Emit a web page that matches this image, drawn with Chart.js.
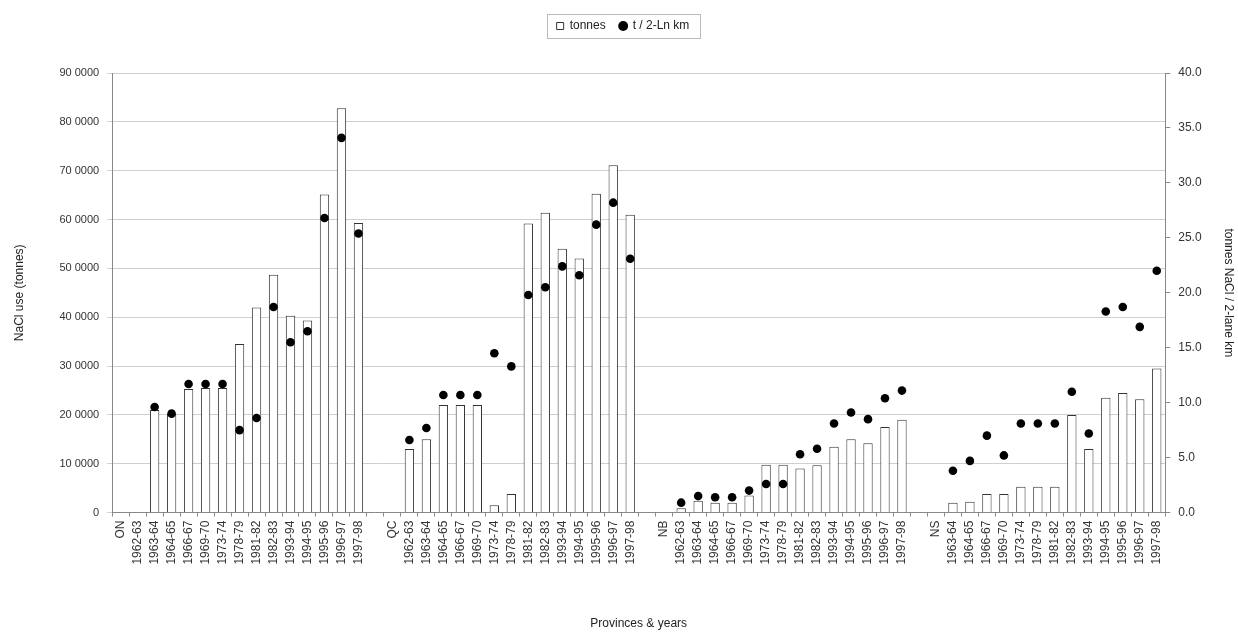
<!DOCTYPE html>
<html>
<head>
<meta charset="utf-8">
<script src="https://cdn.jsdelivr.net/npm/chart.js@4"></script>
<style>
  html, body { margin: 0; padding: 0; background: #fff; }
  #wrap { width: 1238px; height: 635px; }
</style>
</head>
<body>
<div id="wrap"><canvas id="chart" width="1238" height="635"></canvas></div>
<script>
// --- data ---
const years = ['1962-63', '1963-64', '1964-65', '1966-67', '1969-70', '1973-74', '1978-79',
  '1981-82', '1982-83', '1993-94', '1994-95', '1995-96', '1996-97', '1997-98'];
const nsYears = years.slice(1);

const onTonnes = [null, 21000, 20300, 25300, 25500, 25500, 34500, 42000, 48700, 40300, 39300, 65100, 82800, 59300];
const onPerKm  = [null, 9.6, 9.0, 11.7, 11.7, 11.7, 7.5, 8.6, 18.7, 15.5, 16.5, 26.8, 34.1, 25.4];

const qcTonnes = [13000, 15000, 22000, 22000, 22000, 1500, 3800, 59200, 61400, 54000, 52000, 65300, 71100, 61000];
const qcPerKm  = [6.6, 7.7, 10.7, 10.7, 10.7, 14.5, 13.3, 19.8, 20.5, 22.4, 21.6, 26.2, 28.2, 23.1];

const nbTonnes = [900, 2400, 2000, 2000, 3500, 9800, 9800, 9000, 9700, 13500, 15000, 14200, 17500, 19000];
const nbPerKm  = [0.9, 1.5, 1.4, 1.4, 2.0, 2.6, 2.6, 5.3, 5.8, 8.1, 9.1, 8.5, 10.4, 11.1];

const nsTonnes = [2000, 2200, 3800, 3800, 5300, 5300, 5300, 20000, 13000, 23500, 24500, 23200, 29500];
const nsPerKm  = [3.8, 4.7, 7.0, 5.2, 8.1, 8.1, 8.1, 11.0, 7.2, 18.3, 18.7, 16.9, 22.0];

const leftTicks = [0, 10000, 20000, 30000, 40000, 50000, 60000, 70000, 80000, 90000];
const rightTicks = [0, 5, 10, 15, 20, 25, 30, 35, 40];

// province label slot + years, blank slot between provinces
const labels = ['ON', ...years, '', 'QC', ...years, '', 'NB', ...years, '', 'NS', ...nsYears];
const tonnes = [null, ...onTonnes, null, null, ...qcTonnes, null, null, ...nbTonnes, null, null, ...nsTonnes];
const perKm  = [null, ...onPerKm, null, null, ...qcPerKm, null, null, ...nbPerKm, null, null, ...nsPerKm];

const FONT = 'Liberation Sans, Arial, sans-serif';

/* === extra room under the legend + frame round it === */
const legendBoxPlugin = {
  id: 'legendBox',
  beforeInit(chart) {
    const fit = chart.legend.fit;
    chart.legend.fit = function () {
      fit.call(this);
      this.height += 31;
    };
  },
  afterDraw(chart) {
    const lg = chart.legend;
    if (!lg || !lg.legendHitBoxes.length) return;
    const boxes = lg.legendHitBoxes;
    const x0 = Math.min(...boxes.map(b => b.left)) - 10;
    const x1 = Math.max(...boxes.map(b => b.left + b.width)) + 10;
    const y0 = boxes[0].top - 6;
    const y1 = boxes[0].top + boxes[0].height + 6;
    const ctx = chart.ctx;
    ctx.save();
    ctx.strokeStyle = '#bbb';
    ctx.lineWidth = 1;
    ctx.strokeRect(Math.round(x0) + 0.5, Math.round(y0) + 0.5, Math.round(x1 - x0), Math.round(y1 - y0));
    ctx.restore();
  }
};

new Chart(document.getElementById('chart'), {
  data: {
    labels: labels,
    datasets: [
      {
        type: 'bar',
        label: 'tonnes',
        data: tonnes,
        yAxisID: 'y',
        backgroundColor: '#fff',
        borderColor: '#333',
        borderWidth: 1,
        barPercentage: 0.55,
        categoryPercentage: 1,
        pointStyle: 'rect',
        order: 2
      },
      {
        type: 'line',
        label: 't / 2-Ln km',
        data: perKm,
        yAxisID: 'y1',
        showLine: false,
        pointStyle: 'circle',
        pointRadius: 4.3,
        pointBorderWidth: 0,
        pointBackgroundColor: '#000',
        pointBorderColor: '#000',
        order: 1
      }
    ]
  },
  options: {
    responsive: false,
    animation: false,
    layout: { padding: { top: 6, left: 8, right: 0, bottom: 4 } },
    plugins: {
      legend: {
        position: 'top',
        labels: {
          usePointStyle: true,
          boxWidth: 7,
          boxHeight: 7,
          padding: 14,
          color: '#222',
          font: { family: FONT, size: 12 },
          sort: (a, b) => a.datasetIndex - b.datasetIndex
        }
      },
      tooltip: { enabled: false }
    },
    scales: {
      x: {
        offset: true,
        grid: { display: true, drawOnChartArea: false, offset: true, tickLength: 4, color: '#888' },
        border: { color: '#888' },
        ticks: {
          autoSkip: false,
          maxRotation: 90,
          minRotation: 90,
          color: '#333',
          padding: 4,
          font: { family: FONT, size: 12 }
        },
        title: {
          display: true,
          text: 'Provinces & years',
          color: '#222',
          font: { family: FONT, size: 12 },
          padding: { top: 48, bottom: 0 }
        }
      },
      y: {
        position: 'left',
        min: 0,
        max: 90000,
        afterBuildTicks: axis => { axis.ticks = leftTicks.map(v => ({ value: v })); },
        grid: { color: '#cfcfcf', tickLength: 5 },
        border: { color: '#888' },
        ticks: {
          color: '#333',
          padding: 8,
          font: { family: FONT, size: 11 },
          callback: v => v === 0 ? '0' : (v / 1000) + ' 0000'
        },
        title: {
          display: true,
          text: 'NaCl use (tonnes)',
          color: '#222',
          font: { family: FONT, size: 12 },
          padding: { top: 4, bottom: 25 }
        }
      },
      y1: {
        position: 'right',
        min: 0,
        max: 40,
        afterBuildTicks: axis => { axis.ticks = rightTicks.map(v => ({ value: v })); },
        grid: { drawOnChartArea: false, tickLength: 5, color: '#888' },
        border: { color: '#888' },
        ticks: {
          color: '#333',
          padding: 8,
          font: { family: FONT, size: 12 },
          callback: v => v.toFixed(1)
        },
        title: {
          display: true,
          text: 'tonnes NaCl / 2-lane km',
          color: '#222',
          font: { family: FONT, size: 12 },
          padding: { top: 2, bottom: 12 }
        }
      }
    }
  },
  plugins: [legendBoxPlugin]
});
</script>
</body>
</html>
